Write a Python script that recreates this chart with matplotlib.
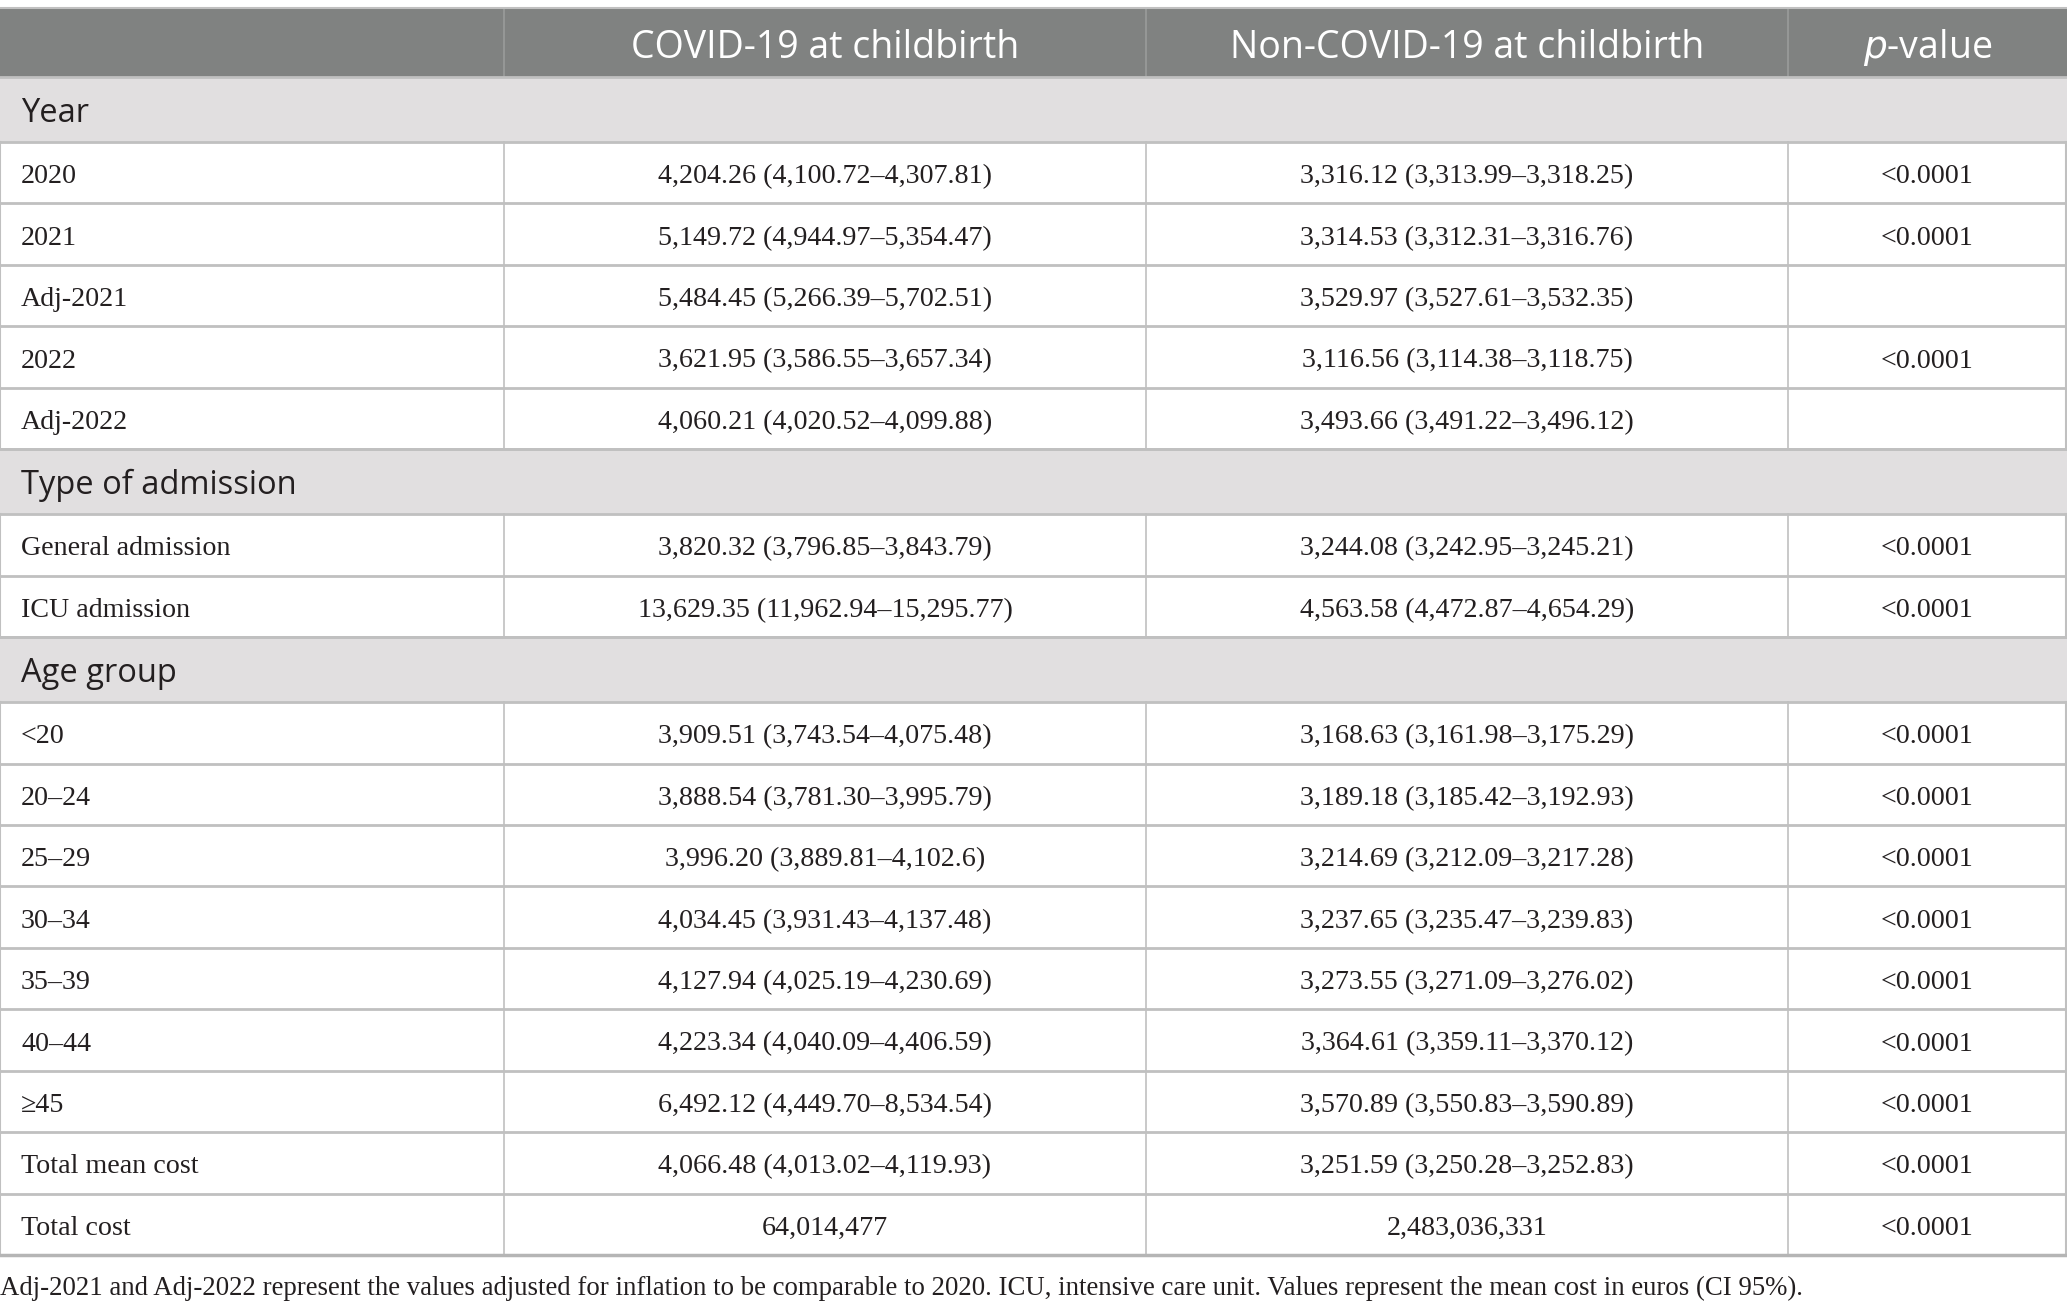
"""Cost table: COVID-19 vs non-COVID-19 at childbirth, drawn as a matplotlib table."""
import matplotlib
matplotlib.use("Agg")
import matplotlib.pyplot as plt
from matplotlib.patches import Rectangle

# table content
headers = ["", "COVID-19 at childbirth", "Non-COVID-19 at childbirth", "$p$-value"]
sections = ["Year", "Type of admission", "Age group"]
yearLabels = ["2020", "2021", "Adj-2021", "2022", "Adj-2022"]
yearCovid = ["4,204.26 (4,100.72–4,307.81)", "5,149.72 (4,944.97–5,354.47)",
             "5,484.45 (5,266.39–5,702.51)", "3,621.95 (3,586.55–3,657.34)",
             "4,060.21 (4,020.52–4,099.88)"]
yearNonCovid = ["3,316.12 (3,313.99–3,318.25)", "3,314.53 (3,312.31–3,316.76)",
                "3,529.97 (3,527.61–3,532.35)", "3,116.56 (3,114.38–3,118.75)",
                "3,493.66 (3,491.22–3,496.12)"]
yearP = ["<0.0001", "<0.0001", "", "<0.0001", ""]
admLabels = ["General admission", "ICU admission"]
admCovid = ["3,820.32 (3,796.85–3,843.79)", "13,629.35 (11,962.94–15,295.77)"]
admNonCovid = ["3,244.08 (3,242.95–3,245.21)", "4,563.58 (4,472.87–4,654.29)"]
admP = ["<0.0001", "<0.0001"]
ageLabels = ["<20", "20–24", "25–29", "30–34", "35–39", "40–44", "≥45",
             "Total mean cost", "Total cost"]
ageCovid = ["3,909.51 (3,743.54–4,075.48)", "3,888.54 (3,781.30–3,995.79)",
            "3,996.20 (3,889.81–4,102.6)", "4,034.45 (3,931.43–4,137.48)",
            "4,127.94 (4,025.19–4,230.69)", "4,223.34 (4,040.09–4,406.59)",
            "6,492.12 (4,449.70–8,534.54)", "4,066.48 (4,013.02–4,119.93)",
            "64,014,477"]
ageNonCovid = ["3,168.63 (3,161.98–3,175.29)", "3,189.18 (3,185.42–3,192.93)",
               "3,214.69 (3,212.09–3,217.28)", "3,237.65 (3,235.47–3,239.83)",
               "3,273.55 (3,271.09–3,276.02)", "3,364.61 (3,359.11–3,370.12)",
               "3,570.89 (3,550.83–3,590.89)", "3,251.59 (3,250.28–3,252.83)",
               "2,483,036,331"]
ageP = ["<0.0001"] * 9
footnote = ("Adj-2021 and Adj-2022 represent the values adjusted for inflation to be "
            "comparable to 2020. ICU, intensive care unit. Values represent the mean "
            "cost in euros (CI 95%).")

blocks = [
    (sections[0], list(zip(yearLabels, yearCovid, yearNonCovid, yearP))),
    (sections[1], list(zip(admLabels, admCovid, admNonCovid, admP))),
    (sections[2], list(zip(ageLabels, ageCovid, ageNonCovid, ageP))),
]

# layout in pixels
W, H = 2067, 1311
colEdges = [0, 504, 1146, 1788, W]
tableTop = 8
headerH = 69
sectionH = 65
rowH = 61.44
textShift = 4  # text sits slightly below the geometric centre

headerColor = "#808281"
bandColor = "#e1dfe0"
lineColor = "#c0c0c0"
textColor = "#231f20"

sansFont = "Open Sans"
serifFont = "Liberation Serif"

fig = plt.figure(figsize=(W / 100, H / 100), dpi=100)
ax = fig.add_axes([0, 0, 1, 1])
ax.set_xlim(0, W)
ax.set_ylim(H, 0)
ax.axis("off")

# header
ax.add_patch(Rectangle((0, tableTop), W, headerH, facecolor=headerColor, edgecolor="none"))
for i, text in enumerate(headers):
    if text:
        xc = (colEdges[i] + colEdges[i + 1]) / 2
        ax.text(xc, tableTop + headerH / 2 + textShift + 1, text, ha="center", va="center",
                color="white", fontsize=27, family=sansFont)
for xe in colEdges[1:-1]:
    ax.plot([xe, xe], [tableTop, tableTop + headerH], color="#9a9c9b", lw=1.2)
ax.plot([0, W], [tableTop, tableTop], color=lineColor, lw=1.5)

y = tableTop + headerH
for sectionName, rows in blocks:
    ax.add_patch(Rectangle((0, y), W, sectionH, facecolor=bandColor, edgecolor="none"))
    ax.text(21, y + sectionH / 2 + textShift, sectionName, ha="left", va="center",
            color=textColor, fontsize=23.5, family=sansFont)
    ax.plot([0, W], [y, y], color=lineColor, lw=2)
    y += sectionH
    ax.plot([0, W], [y, y], color=lineColor, lw=2)
    for label, covid, nonCovid, pval in rows:
        yc = y + rowH / 2 + textShift
        ax.text(21, yc, label, ha="left", va="center", color=textColor,
                fontsize=20.2, family=serifFont)
        for i, val in enumerate([covid, nonCovid, pval], start=1):
            xc = (colEdges[i] + colEdges[i + 1]) / 2
            ax.text(xc, yc, val, ha="center", va="center", color=textColor,
                    fontsize=20.2, family=serifFont)
        for xe in colEdges[1:-1]:
            ax.plot([xe, xe], [y, y + rowH], color=lineColor, lw=1.2)
        ax.plot([0, 0], [y, y + rowH], color=lineColor, lw=1.5)
        ax.plot([W - 1, W - 1], [y, y + rowH], color=lineColor, lw=1.5)
        y += rowH
        ax.plot([0, W], [y, y], color=lineColor, lw=2)

ax.plot([0, W], [y, y], color="#b5b5b5", lw=2.5)

ax.text(0, y + 33, footnote, ha="left", va="center", color=textColor,
        fontsize=19.3, family=serifFont)

fig.savefig("out.png", dpi=100, facecolor="white")
